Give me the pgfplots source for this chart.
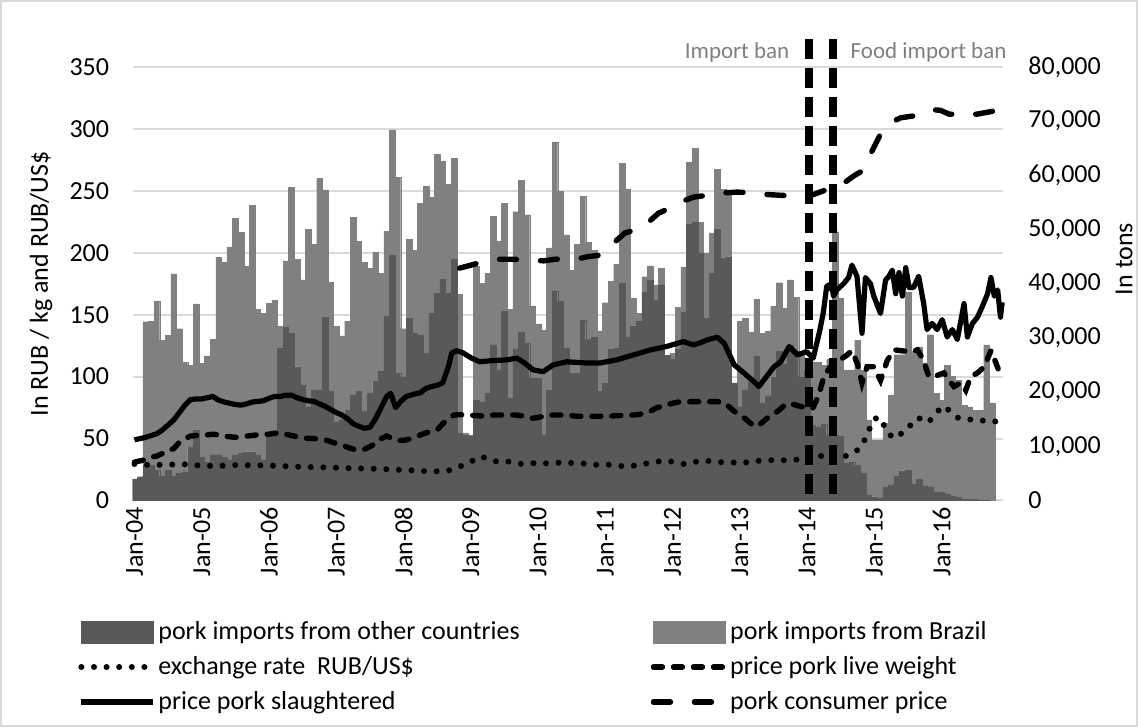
\documentclass[border=0pt]{standalone}
\usepackage{fontspec}
\setmainfont{Carlito}
\usepackage{pgfplots}
\usepackage{pgfplotstable}
\pgfplotsset{compat=1.18}
\definecolor{darkbar}{HTML}{595959}
\definecolor{lightbar}{HTML}{808080}
\definecolor{gridc}{HTML}{D9D9D9}
\definecolor{labelc}{HTML}{7F7F7F}

\pgfplotstableread{
k other brazil
0 3970 0
1 4400 0
2 6500 26500
3 6500 26600
4 5600 31200
5 4500 25100
6 5600 24900
7 4500 37300
8 5000 26700
9 5300 20200
10 9900 15100
11 13000 23300
12 8000 17300
13 7000 19700
14 8400 21300
15 8400 36500
16 8000 35900
17 7500 39300
18 8300 43800
19 8700 40800
20 9000 34300
21 9000 45500
22 8400 26900
23 7500 27100
24 12400 24000
25 12400 24600
26 28100 4000
27 31900 12300
28 30800 27000
29 24700 19800
30 21300 19400
31 17300 32700
32 20400 26900
33 20400 39000
34 33800 23500
35 20100 20200
36 14400 17700
37 14900 15500
38 16700 16400
39 19500 32800
40 20100 27700
41 16400 27600
42 19800 23000
43 22000 23800
44 23800 18100
45 34000 15700
46 45300 23100
47 23500 36100
48 22800 8900
49 33600 14600
50 30800 15400
51 30500 24300
52 27100 30900
53 34600 21400
54 38200 25700
55 40800 21800
56 38200 20200
57 44500 18600
58 12400 25600
59 12000 500
60 11800 300
61 18500 24700
62 18200 21900
63 19800 22100
64 28700 23800
65 24100 23700
66 35000 19800
67 18900 16400
68 27900 25400
69 31000 28100
70 29000 23700
71 22500 13400
72 22500 10100
73 12100 19400
74 20400 26200
75 38700 27500
76 36700 20300
77 28100 20900
78 23500 19000
79 23500 23800
80 33200 22900
81 29700 17900
82 30100 16100
83 20100 11200
84 21600 14900
85 27900 12600
86 28100 15500
87 40100 22100
88 30200 27300
89 32100 5200
90 33100 1400
91 38400 2900
92 40700 2600
93 37000 2800
94 39800 3000
95 26800 0
96 26000 1200
97 28000 7600
98 34700 8400
99 51000 11500
100 51300 13700
101 45600 5700
102 33600 12000
103 41900 7500
104 50000 11100
105 44800 12600
106 45000 12200
107 21600 100
108 17300 15800
109 20400 13200
110 21900 9100
111 26700 10400
112 17900 12900
113 19300 11900
114 22700 13100
115 27500 12700
116 25200 10300
117 28700 12000
118 27500 10000
119 22800 4400
120 24000 1600
121 13900 11700
122 13600 12000
123 14000 11000
124 12000 14000
125 12000 37600
126 11800 25600
127 6900 17200
128 7000 17100
129 6500 23100
130 5000 19100
131 1000 13900
132 700 10500
133 400 10800
134 2500 11800
135 2900 16600
136 4500 22400
137 5500 21400
138 5600 32900
139 3000 24500
140 3900 24400
141 2700 22700
142 2500 28100
143 1600 18200
144 1600 16900
145 1200 23800
146 800 22100
147 600 21600
148 300 17300
149 250 17050
150 200 16500
151 100 16600
152 50 28650
153 0 18000
}\bars

\pgfplotstableread{
k v
0 49
1 50
2 51
3 52.5
4 54
5 57
6 61
7 65
8 71
9 77
10 81.5
11 82
12 82
13 83
14 84
15 81
16 79.5
17 78.5
18 77.5
19 77
20 78
21 79.5
22 80
23 80.5
24 82.5
25 84
26 84
27 85
28 85
29 83
30 81.5
31 80.5
32 80
33 78
34 76
35 73.5
36 71
37 69
38 66
39 62
40 60
41 58.3
42 59
43 66
44 75
45 84
45.7 86.5
46.6 75
47.5 80
48.5 84
50 86
51 87
52 90.5
53 92
54 93
55 95
56 108
56.6 119
57.5 121
58.7 119
60.1 115
61.6 112
64 113
66.4 113.5
68.2 115
69.6 111
71.1 105.5
72.9 104
74.7 109.5
77.1 112
80.6 111
83 111
86 113.5
89 117.5
92 121.6
94.9 124.3
97.9 128.3
99.7 125.6
101 127.5
102.2 129.7
104 131.8
105.2 127
107 109.5
108.8 102.7
110.5 96
111.4 92
112.3 97.4
114.1 108
115.3 112
116.8 124.3
118.3 117.5
119.9 120.2
121.1 115
122.3 138
122.9 152
123.5 173
124.4 175
124.7 165
125.3 170
126.5 175
127.4 180
128.0 190
128.9 181
129.8 135
130.4 180
131.3 175
131.9 165
133.1 151
134.0 178
134.6 181
135.2 186
135.8 167
136.4 184
137.0 165
137.6 188
138.2 172
139.0 172
139.9 181
140.8 159
141.4 138
142.3 143
143.2 138
144.1 146
145.0 132
145.9 138
146.8 130
148.0 159
148.6 132
149.5 143
150.4 148
151.3 157
152.2 167
152.8 180
153.4 165
154.0 170
154.5 148
154.8 160
}\slaught

\pgfplotstableread{
k v
0 31
1 32
2 33
3 35
4 36
5 38
6 40
7 42
8 47
9 50
10 52
11 52.5
12 53
13 53
14 53.5
15 53
16 52
17 51.5
18 51
19 51.5
20 52
21 52.5
22 53
23 53.5
24 53.5
25 54.3
26 54.5
27 53.5
28 52.5
29 51.5
30 50.5
31 50.2
32 50
33 49.5
34 49
35 47.5
36 46
37 45
38 43
39 41.5
40 41
41 41.3
42 43.5
43 46
44 50
45 52
46 50
47 48.5
48 48.5
49 49.5
50 51
51 53
52 54.5
53 56
54 57
55 62
56 66
57 69
58 69.3
59 69
60 68.8
61 68.5
62 68.3
63 68.5
64 69
66 69
68 69
69 68.5
70 67.7
71 66.4
72 67
73 68
74 69
77 69
78 68.5
79 68
84 68
85 68.2
86 68.5
87 68.7
88 69
89 69
90 69.5
91 70.5
92 72
93 74.5
94 76
95 77.2
96 78.5
97 79.5
98 79.8
104 79.8
105 79.5
106 76
107 72
108 69
109 66
110 62
111 59.6
112 63
113 67
114 69.5
115 73
116 77
117 78.5
118 77
119 75.8
120 75
121 74.5
122 84
123 100
124 107
125 111
126 114
127 117
128 121
129 110
129.8 95
130.7 108
131.9 108
133.1 97
134.3 113
135.5 121.6
136.7 121
138.5 120
139.7 121.6
140.8 113
141.7 100
142.6 100
144.4 103
145.3 97
146.2 92
147.4 95
148.3 89
149.2 100
150.4 103
151.6 108
152.8 121
153.7 111
154.6 100
}\live

\pgfplotstableread{
k v
58 187.6
60 190
62 192.5
63.5 194
65 194.8
67 194.8
69 194.5
71 194
73 193.5
75 194.8
77 195
79 195
81 197
83 198
84.5 202
86 210
87.5 216
89 218
90.5 220
92 226
93.5 232
95 235
96.5 239
98 242
99.8 245
101.5 246
103.4 247
105.5 248.5
107.6 249
109.5 248.5
111.1 248
113 247
115 246.5
117 246
118.8 245.5
120 246.5
121.1 247
122.3 249
123.5 251
124.5 253
125.5 255
126.8 257
128.3 262
129.8 266
131 277
131.9 285
133 295
133.7 299
134.8 305
136.7 309
138.2 310
139.9 311
141.5 313.5
142.5 315.5
143.8 315
145.3 312
146.8 311.5
148.5 311
150.4 312
152.2 313.5
154 315
154.8 316
}\consumer

\pgfplotstableread{
k v
0 29.5
3 28.6
6 29.0
9 29.2
12 28.1
15 27.9
18 28.6
21 28.5
24 28.2
27 27.7
30 27.1
33 26.8
36 26.5
39 25.9
42 25.8
45 25.2
48 24.6
50 24.3
53 23.3
56 24.2
57 25.5
58 27.3
59 29.4
60 31.3
61 34.0
62 35.4
63 33.5
64 32.0
65 31.3
66 31.6
67 31.3
68 30.1
69 29.6
70 30.0
72 30.2
74 29.9
76 30.6
78 30.3
80 29.9
82 28.7
84 29.3
86 28.0
88 27.6
90 28.5
92 30.6
94 31.8
96 31.4
98 29.5
100 31.2
102 32.2
104 31.0
106 30.9
108 30.4
110 31.1
112 32.5
114 32.6
116 32.5
118 33.0
120 33.5
121 35.2
122 36.2
123 35.7
124 35.0
125 34.4
126 34.6
127 36.1
128 37.9
129 40.8
130 46.3
131 56.5
132 66
133 67
134 58
135 52
136 50.5
137 55
138 58
139 64.5
140 66.5
141 63
142 65
143 70
144 76
145 74
146 70
147 66.5
148 66
149 65.5
150 64.5
151 64.5
152 64.5
153 63.5
154 64
}\exch

\pgfplotsset{
  base/.style={scale only axis, width=435pt, height=216.75pt,
    at={(66.35pt,113.25pt)}, anchor=south west,
    xmin=-0.32, xmax=154.9,
    axis line style={draw=none}, major tick length=0pt,
    tick label style={font=\fontsize{13}{15}\selectfont},
    /pgf/number format/assume math mode=true},
  darkleg/.style={legend image code/.code={\fill[darkbar] (0pt,-5.5pt) rectangle (36pt,5.5pt);}},
  lightleg/.style={legend image code/.code={\fill[lightbar] (0pt,-5.5pt) rectangle (36pt,5.5pt);}},
  lineleg/.style={legend image code/.code={\draw[##1] (0pt,0pt) -- (36pt,0pt);}},
  exchst/.style={black, line width=3pt, line cap=round, dash pattern=on 0pt off 6.3pt},
  livest/.style={black, line width=2.7pt, line cap=round, dash pattern=on 4.5pt off 5.5pt},
  slst/.style={black, line width=2.6pt, line join=round},
  consst/.style={black, line width=2.7pt, line cap=round, dash pattern=on 8.5pt off 12pt},
}

\begin{document}
\begin{tikzpicture}
\path[use as bounding box] (0,0) rectangle (569pt,363.5pt);
\draw[gridc, line width=1pt] (0.5pt,0.5pt) rectangle (568.5pt,363pt);

% grid + left ticks + x labels
\begin{axis}[base, ymin=0, ymax=350, ytick={0,50,...,350},
  ymajorgrids, grid style={gridc, line width=1pt},
  xtick={0,12,...,144},
  xticklabels={Jan-04,Jan-05,Jan-06,Jan-07,Jan-08,Jan-09,Jan-10,Jan-11,Jan-12,Jan-13,Jan-14,Jan-15,Jan-16},
  xticklabel style={rotate=90, anchor=east},
  yticklabel style={xshift=-8.3pt}]
\end{axis}

% bars, right axis
\begin{axis}[base, ymin=0, ymax=80000, ytick={0,10000,...,80000},
  ytick pos=right, yticklabel pos=right, xtick=\empty,
  scaled y ticks=false,
  yticklabel style={/pgf/number format/1000 sep={,}, xshift=9.3pt},
  ybar stacked, bar width=1]
\addplot[fill=darkbar, draw=darkbar, line width=0.15pt] table[x=k, y=other] {\bars};
\addplot[fill=lightbar, draw=lightbar, line width=0.15pt] table[x=k, y=brazil] {\bars};
\end{axis}

% lines, left axis
\begin{axis}[base, ymin=0, ymax=350, hide axis, clip=false,
  legend columns=2, legend cell align=left,
  legend style={at={(axis description cs:-0.0629,-0.2734)}, anchor=north west,
    draw=none, fill=none, inner sep=0pt, font=\fontsize{13}{15}\selectfont,
    row sep=5pt, nodes={inner sep=1pt},
    /tikz/every even column/.append style={column sep=64.5pt}}]
\addplot[black, line width=3.8pt, dash pattern=on 10pt off 4.5pt, forget plot] coordinates {(120.3,373) (120.3,0)};
\addplot[black, line width=3.8pt, dash pattern=on 10pt off 4.5pt, forget plot] coordinates {(124.6,373) (124.6,0)};
\addplot[exchst, forget plot] table[x=k, y=v] {\exch};
\addplot[livest, forget plot] table[x=k, y=v] {\live};
\addplot[slst, forget plot] table[x=k, y=v] {\slaught};
\addplot[consst, forget plot] table[x=k, y=v] {\consumer};
\node[anchor=east, inner sep=0pt, text=labelc, font=\fontsize{11.5}{13}\selectfont] at (axis cs:116.9,362) {Import ban};
\node[anchor=west, inner sep=0pt, text=labelc, font=\fontsize{11.5}{13}\selectfont] at (axis cs:127.7,362) {Food import ban};
\addlegendimage{darkleg}
\addlegendentry{pork imports from other countries}
\addlegendimage{lightleg}
\addlegendentry{pork imports from Brazil}
\addlegendimage{lineleg, exchst}
\addlegendentry{exchange rate\ \ RUB/US\$}
\addlegendimage{lineleg, livest}
\addlegendentry{price pork live weight}
\addlegendimage{lineleg, slst}
\addlegendentry{price pork slaughtered}
\addlegendimage{lineleg, consst}
\addlegendentry{pork consumer price}
\end{axis}

\node[rotate=90, font=\fontsize{13}{15}\selectfont] at (20.5pt,221.6pt) {In RUB / kg and RUB/US\$};
\node[rotate=90, font=\fontsize{13}{15}\selectfont] at (562pt,234pt) {In tons};
\end{tikzpicture}
\end{document}
